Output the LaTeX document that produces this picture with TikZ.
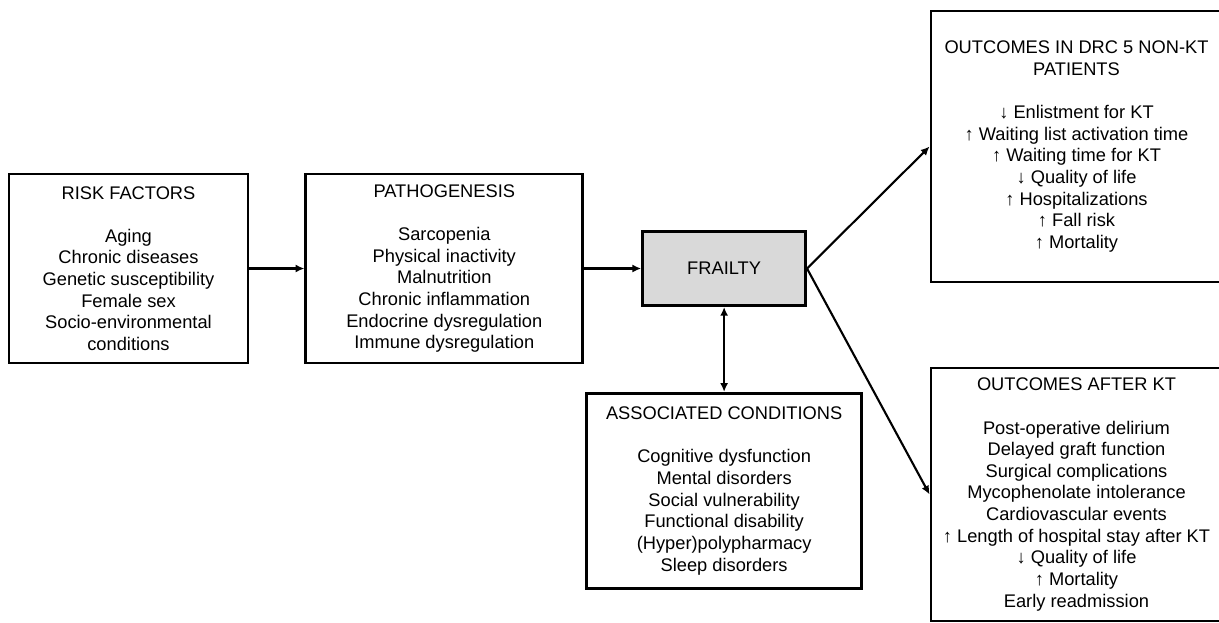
\documentclass[tikz,border=0pt]{standalone}
\usepackage{fontspec}
\setmainfont{Liberation Sans}
\usepackage{xcolor}
\usepackage{tikz}
\usetikzlibrary{positioning, arrows.meta}

\begin{document}
\begin{tikzpicture}[
    box/.style={rectangle, draw, line width=2pt, align=center, font=\fontsize{13}{15.4}\selectfont},
    link/.style={-{Latex[length=2.2mm, width=2mm]}, line width=1.5pt}
]
    \useasboundingbox (0,0) rectangle (30.475,-15.55);
    \node[box, minimum width=5.975cm, minimum height=4.725cm] (risk) at (3.2125,-6.7125) {RISK FACTORS\\[\baselineskip]Aging\\Chronic diseases\\Genetic susceptibility\\Female sex\\Socio-environmental\\conditions};
    \node[box, minimum width=6.925cm, minimum height=4.725cm, right=1.375cm of risk] (patho) {PATHOGENESIS\\[\baselineskip]Sarcopenia\\Physical inactivity\\Malnutrition\\Chronic inflammation\\Endocrine dysregulation\\Immune dysregulation};
    \node[box, fill=gray!30, minimum width=4.075cm, minimum height=1.85cm, right=1.425cm of patho] (frailty) {FRAILTY};
    \node[box, minimum width=6.875cm, minimum height=4.875cm, below=2.125cm of frailty] (assoc) {ASSOCIATED CONDITIONS\\[\baselineskip]Cognitive dysfunction\\Mental disorders\\Social vulnerability\\Functional disability\\(Hyper)polypharmacy\\Sleep disorders};
    \node[box, minimum width=7.275cm, minimum height=6.775cm] (nonkt) at (26.9125,-3.6625) {OUTCOMES IN DRC 5 NON-KT\\PATIENTS\\[\baselineskip]↓ Enlistment for KT\\↑ Waiting list activation time\\↑ Waiting time for KT\\↓ Quality of life\\↑ Hospitalizations\\↑ Fall risk\\↑ Mortality};
    \node[box, minimum width=7.275cm, minimum height=6.325cm] (afterkt) at (26.9125,-12.3625) {OUTCOMES AFTER KT\\[\baselineskip]Post-operative delirium\\Delayed graft function\\Surgical complications\\Mycophenolate intolerance\\Cardiovascular events\\↑ Length of hospital stay after KT\\↓ Quality of life\\↑ Mortality\\Early readmission};
    \draw[link] (risk) -- (patho);
    \draw[link] (patho) -- (frailty);
    \draw[link, {Latex[length=2.2mm, width=2mm]}-{Latex[length=2.2mm, width=2mm]}] (frailty) -- (assoc);
    \draw[link] (frailty.east) -- (nonkt.west);
    \draw[link] (frailty.east) -- (afterkt.west);
\end{tikzpicture}
\end{document}
